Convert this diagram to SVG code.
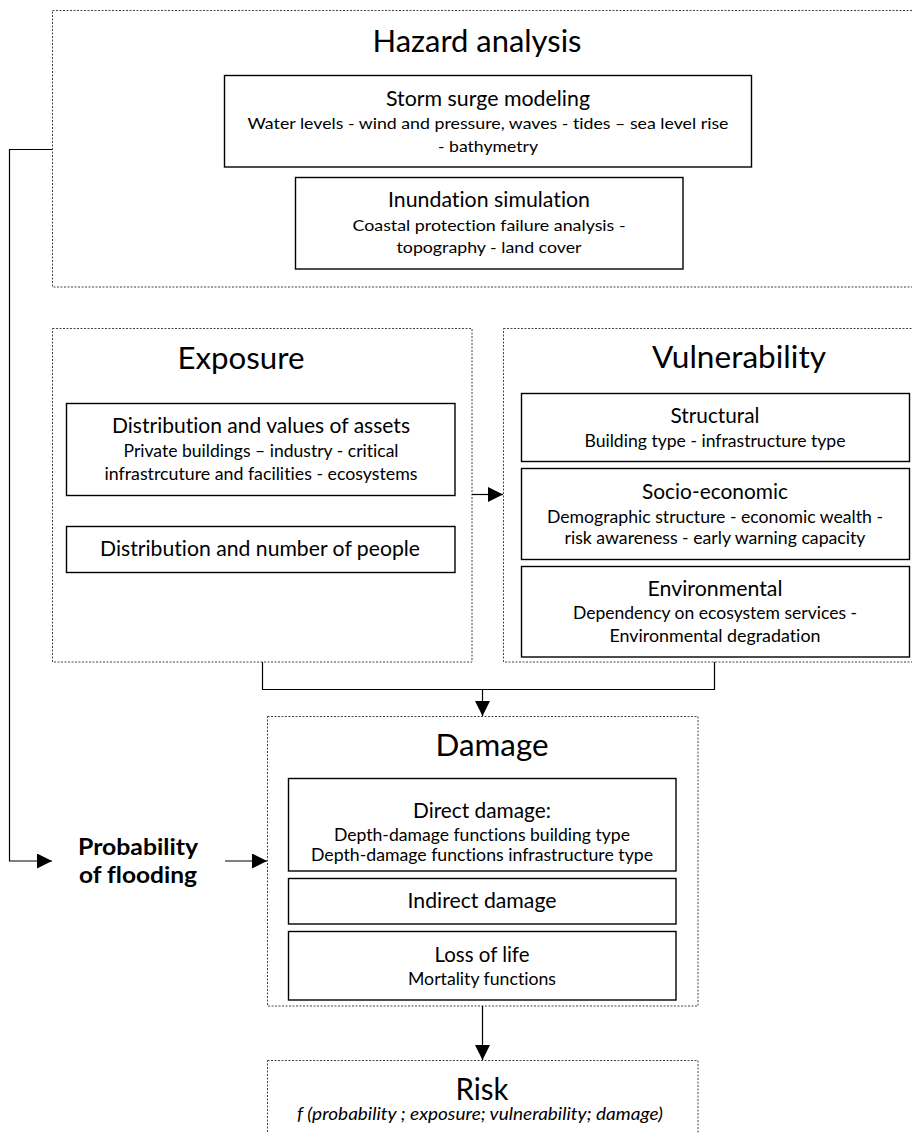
<svg xmlns="http://www.w3.org/2000/svg" width="912" height="1133" viewBox="0 0 912 1133">
  <style>
    text { font-family: Lato, "Open Sans", "Liberation Sans", sans-serif; fill: #000; text-anchor: middle; font-variant-ligatures: none; font-feature-settings: "liga" 0, "dlig" 0; }
    .group { fill: none; stroke: #444; stroke-width: 1; stroke-dasharray: 2 1.5; }
    .box { fill: #fff; stroke: #000; stroke-width: 1.4; }
    .title { font-size: 30.5px; }
    .head { font-size: 20.5px; }
    .sub { font-size: 17.4px; }
    .subs { font-size: 15.8px; }
    .bold { font-size: 23.5px; font-weight: bold; }
    .ital { font-size: 17.4px; font-style: italic; }
    .link { fill: none; stroke: #000; stroke-width: 1.2; }
  </style>
  <defs>
    <marker id="arrow" markerUnits="userSpaceOnUse" markerWidth="16" markerHeight="16" refX="15" refY="7.5" orient="auto">
      <path d="M0,0 L15,7.5 L0,15 Z" fill="#000"/>
    </marker>
  </defs>
  <rect width="912" height="1133" fill="#fff"/>

  <!-- Hazard analysis -->
  <g id="hazard">
    <rect class="group" x="52.5" y="10.5" width="880" height="276.5"/>
    <text class="title" x="477" y="52" textLength="209" lengthAdjust="spacingAndGlyphs">Hazard analysis</text>
    <g id="storm-surge">
      <rect class="box" x="224.5" y="75.5" width="527" height="91.5"/>
      <text class="head" x="488" y="106" textLength="204" lengthAdjust="spacingAndGlyphs">Storm surge modeling</text>
      <text class="subs" x="488" y="129" textLength="481" lengthAdjust="spacingAndGlyphs">Water levels - wind and pressure, waves - tides – sea level rise</text>
      <text class="subs" x="488" y="152" textLength="100" lengthAdjust="spacingAndGlyphs">- bathymetry</text>
    </g>
    <g id="inundation">
      <rect class="box" x="295.5" y="177.5" width="387.5" height="91.5"/>
      <text class="head" x="489" y="207" textLength="202" lengthAdjust="spacingAndGlyphs">Inundation simulation</text>
      <text class="subs" x="489" y="231" textLength="273" lengthAdjust="spacingAndGlyphs">Coastal protection failure analysis -</text>
      <text class="subs" x="489" y="253" textLength="185" lengthAdjust="spacingAndGlyphs">topography - land cover</text>
    </g>
  </g>

  <!-- Exposure -->
  <g id="exposure">
    <rect class="group" x="52.5" y="328.5" width="419.5" height="333.5"/>
    <text class="title" x="241" y="369" textLength="127" lengthAdjust="spacingAndGlyphs">Exposure</text>
    <g id="assets">
      <rect class="box" x="66.5" y="403.5" width="388.5" height="92"/>
      <text class="head" x="261" y="433" textLength="298" lengthAdjust="spacingAndGlyphs">Distribution and values of assets</text>
      <text class="sub" x="261" y="457" textLength="275" lengthAdjust="spacingAndGlyphs">Private buildings – industry - critical</text>
      <text class="sub" x="261" y="480" textLength="313" lengthAdjust="spacingAndGlyphs">infrastrcuture and facilities - ecosystems</text>
    </g>
    <g id="people">
      <rect class="box" x="66.5" y="526.5" width="388.5" height="46"/>
      <text class="head" x="260" y="556" textLength="320" lengthAdjust="spacingAndGlyphs">Distribution and number of people</text>
    </g>
  </g>

  <!-- Vulnerability -->
  <g id="vulnerability">
    <rect class="group" x="503.5" y="328.5" width="430" height="333.5"/>
    <text class="title" x="739" y="368" textLength="174" lengthAdjust="spacingAndGlyphs">Vulnerability</text>
    <g id="structural">
      <rect class="box" x="521.5" y="393.5" width="388" height="68"/>
      <text class="head" x="715" y="423" textLength="89" lengthAdjust="spacingAndGlyphs">Structural</text>
      <text class="sub" x="715" y="447" textLength="261" lengthAdjust="spacingAndGlyphs">Building type - infrastructure type</text>
    </g>
    <g id="socio-economic">
      <rect class="box" x="521.5" y="468.5" width="388" height="91"/>
      <text class="head" x="715" y="499" textLength="146" lengthAdjust="spacingAndGlyphs">Socio-economic</text>
      <text class="sub" x="715" y="523" textLength="336" lengthAdjust="spacingAndGlyphs">Demographic structure - economic wealth -</text>
      <text class="sub" x="715" y="544" textLength="301" lengthAdjust="spacingAndGlyphs">risk awareness - early warning capacity</text>
    </g>
    <g id="environmental">
      <rect class="box" x="521.5" y="566.5" width="388" height="90.5"/>
      <text class="head" x="715" y="596" textLength="135" lengthAdjust="spacingAndGlyphs">Environmental</text>
      <text class="sub" x="715" y="619" textLength="284" lengthAdjust="spacingAndGlyphs">Dependency on ecosystem services -</text>
      <text class="sub" x="715" y="642" textLength="211" lengthAdjust="spacingAndGlyphs">Environmental degradation</text>
    </g>
  </g>

  <!-- Probability of flooding -->
  <g id="probability">
    <text class="bold" x="138" y="855" textLength="120" lengthAdjust="spacingAndGlyphs">Probability</text>
    <text class="bold" x="138" y="883" textLength="118" lengthAdjust="spacingAndGlyphs">of flooding</text>
  </g>

  <!-- Damage -->
  <g id="damage">
    <rect class="group" x="267.5" y="716.5" width="430.5" height="289.5"/>
    <text class="title" x="492" y="756" textLength="113" lengthAdjust="spacingAndGlyphs">Damage</text>
    <g id="direct-damage">
      <rect class="box" x="288.5" y="778.5" width="387.5" height="92.5"/>
      <text class="head" x="482" y="818" textLength="138" lengthAdjust="spacingAndGlyphs">Direct damage:</text>
      <text class="sub" x="482" y="841" textLength="296" lengthAdjust="spacingAndGlyphs">Depth-damage functions building type</text>
      <text class="sub" x="482" y="861" textLength="342" lengthAdjust="spacingAndGlyphs">Depth-damage functions infrastructure type</text>
    </g>
    <g id="indirect-damage">
      <rect class="box" x="288.5" y="878.5" width="387.5" height="45.5"/>
      <text class="head" x="482" y="908" textLength="149" lengthAdjust="spacingAndGlyphs">Indirect damage</text>
    </g>
    <g id="loss-of-life">
      <rect class="box" x="288.5" y="931.5" width="387.5" height="68.5"/>
      <text class="head" x="482" y="962" textLength="95" lengthAdjust="spacingAndGlyphs">Loss of life</text>
      <text class="sub" x="482" y="985" textLength="148" lengthAdjust="spacingAndGlyphs">Mortality functions</text>
    </g>
  </g>

  <!-- Risk -->
  <g id="risk">
    <rect class="group" x="267.5" y="1060.5" width="430.5" height="90"/>
    <text class="title" x="482" y="1100" textLength="53" lengthAdjust="spacingAndGlyphs">Risk</text>
    <text class="ital" x="480" y="1120" textLength="366" lengthAdjust="spacingAndGlyphs">f (probability ; exposure; vulnerability; damage)</text>
  </g>

  <!-- Connectors -->
  <g id="connectors">
    <path class="link" d="M52,149.5 H9.5 V861 H52" marker-end="url(#arrow)"/>
    <path class="link" d="M225,861 H267" marker-end="url(#arrow)"/>
    <path class="link" d="M472,494.5 H503" marker-end="url(#arrow)"/>
    <path class="link" d="M262.5,662 V689.5 H714.5 V662"/>
    <path class="link" d="M482.5,689.5 V716" marker-end="url(#arrow)"/>
    <path class="link" d="M482.5,1006 V1060" marker-end="url(#arrow)"/>
  </g>
</svg>
